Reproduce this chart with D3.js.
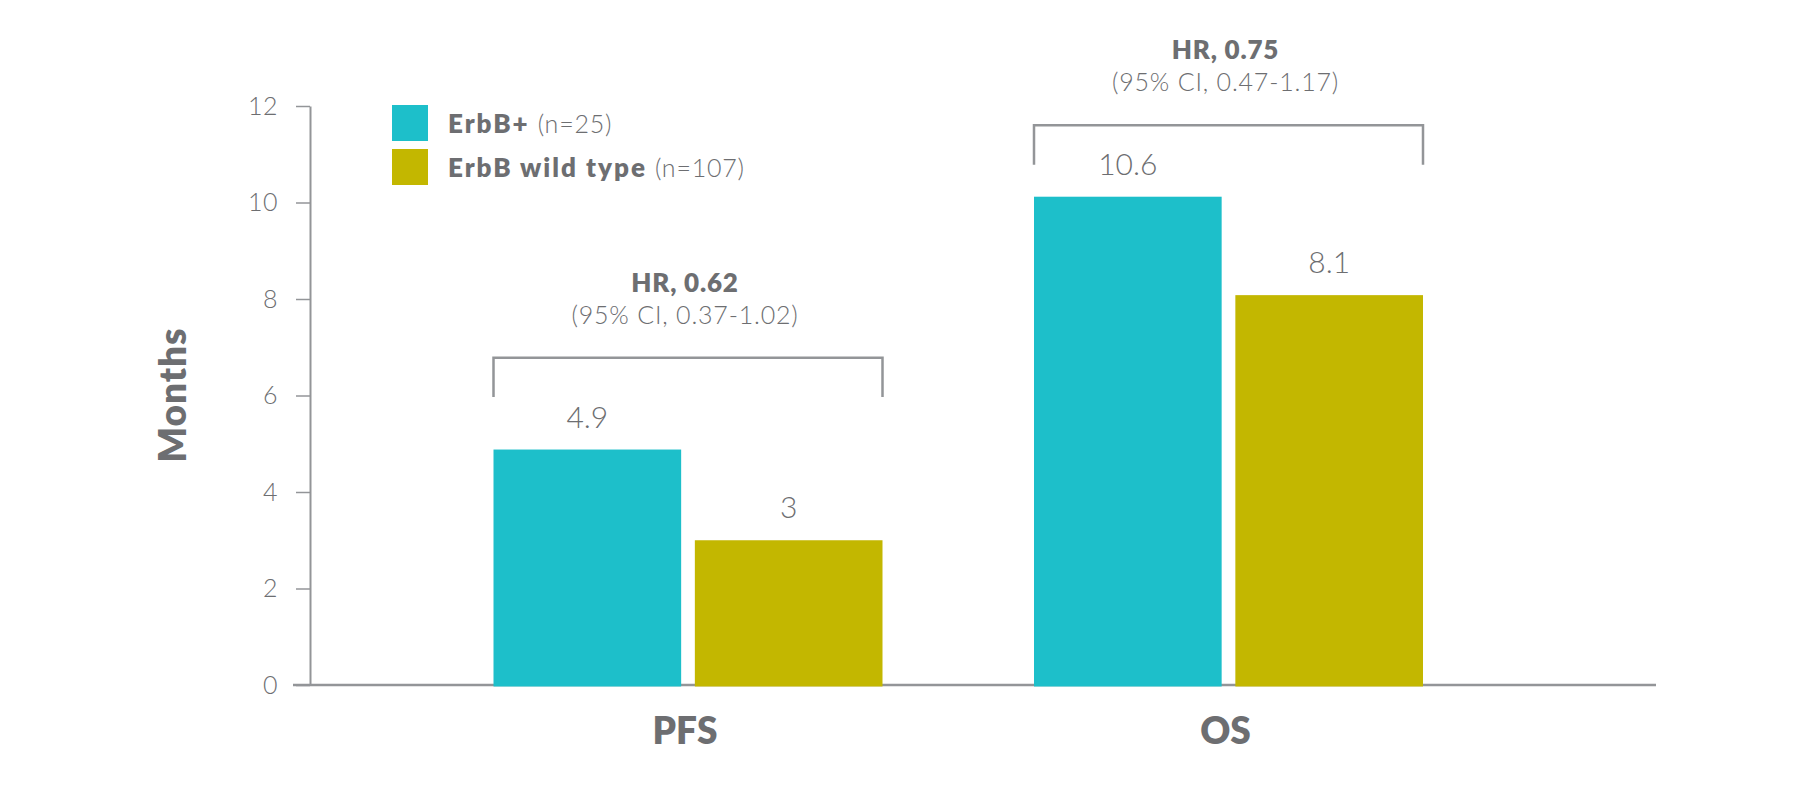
<!DOCTYPE html>
<html>
<head>
<meta charset="utf-8">
<script src="https://cdn.jsdelivr.net/npm/d3@7"></script>
<style>
  html, body { margin: 0; padding: 0; background: #fff; }
  svg { display: block; font-family: Lato, "Open Sans", sans-serif; }
</style>
</head>
<body>
<svg id="chart" width="1808" height="800"></svg>
<script>
// ---- data ----
const categories = ["PFS", "OS"];
const seriesNames = ["ErbB+", "ErbB wild type"];
const seriesCounts = ["(n=25)", "(n=107)"];
const erbbPlus = [4.88, 10.12];          // bar heights as drawn
const erbbWild = [3.0, 8.08];
const erbbPlusLabels = ["4.9", "10.6"];  // printed value labels
const erbbWildLabels = ["3", "8.1"];
const hrLabels = ["HR, 0.62", "HR, 0.75"];
const ciLabels = ["(95% CI, 0.37-1.02)", "(95% CI, 0.47-1.17)"];
const bracketTop = [6.78, 11.6];
const bracketBottom = [5.97, 10.78];
const yTicks = [0, 2, 4, 6, 8, 10, 12];
const yTitle = "Months";

// ---- styles ----
const colors = ["#1dbfca", "#c3b700"];
const textColor = "#6d6e71";
const axisColor = "#939598";
const heavy = 800;

const svg = d3.select("#chart");

const y = d3.scaleLinear().domain([0, 12]).range([685, 106]);
const xGroup = d3.scalePoint().domain(categories).range([688, 1228.5]);
const xInner = d3.scaleBand().domain(seriesNames).range([-194.5, 194.5]).paddingInner(0.068);

const series = [erbbPlus, erbbWild];
const seriesLabels = [erbbPlusLabels, erbbWildLabels];

// y axis
const yAxis = svg.append("g")
  .attr("transform", "translate(310,0)")
  .call(d3.axisLeft(y).tickValues(yTicks).tickSize(14).tickSizeOuter(0).tickPadding(18));
yAxis.select(".domain").attr("stroke", axisColor).attr("stroke-width", 2);
yAxis.selectAll(".tick line").attr("stroke", axisColor).attr("stroke-width", 1.5);
yAxis.selectAll(".tick text")
  .attr("fill", textColor)
  .style("font-family", "Lato, sans-serif")
  .style("font-weight", 300)
  .style("font-size", "25px")
  .style("letter-spacing", "0.5px");

// x baseline
svg.append("line")
  .attr("x1", 293).attr("x2", 1656)
  .attr("y1", y(0)).attr("y2", y(0))
  .attr("stroke", axisColor).attr("stroke-width", 2.5);

// bars
const groups = svg.append("g").selectAll("g")
  .data(categories)
  .join("g")
  .attr("transform", d => `translate(${xGroup(d)},0)`);

seriesNames.forEach((s, si) => {
  groups.append("rect")
    .attr("x", xInner(s))
    .attr("width", xInner.bandwidth())
    .attr("y", (d, i) => y(series[si][i]))
    .attr("height", (d, i) => y(0) - y(series[si][i]) + 1.5)
    .attr("fill", colors[si]);
  groups.append("text")
    .attr("x", xInner(s) + xInner.bandwidth() / 2)
    .attr("y", (d, i) => y(series[si][i]) - 22)
    .attr("text-anchor", "middle")
    .attr("fill", textColor)
    .style("font-weight", 300)
    .style("font-size", "30px")
    .text((d, i) => seriesLabels[si][i]);
});

// brackets + HR annotations
groups.each(function(d, i) {
  const g = d3.select(this);
  const x0 = xInner.range()[0], x1 = xInner.range()[1];
  const yt = y(bracketTop[i]), yb = y(bracketBottom[i]);
  g.append("path")
    .attr("d", `M${x0},${yb}V${yt}H${x1}V${yb}`)
    .attr("fill", "none")
    .attr("stroke", axisColor)
    .attr("stroke-width", 2.5);
  g.append("text")
    .attr("x", -3).attr("y", yt - 66)
    .attr("text-anchor", "middle")
    .attr("fill", textColor)
    .style("font-weight", heavy)
    .style("font-size", "26px")
    .style("letter-spacing", "0.8px")
    .text(hrLabels[i]);
  g.append("text")
    .attr("x", -3).attr("y", yt - 34)
    .attr("text-anchor", "middle")
    .attr("fill", textColor)
    .style("font-weight", 300)
    .style("font-size", "25px")
    .style("letter-spacing", "0.8px")
    .text(ciLabels[i]);
  g.append("text")
    .attr("x", -3).attr("y", 744)
    .attr("text-anchor", "middle")
    .attr("fill", textColor)
    .style("font-weight", heavy)
    .style("font-size", "37px")
    .text(d);
});

// y title
svg.append("text")
  .attr("transform", "translate(186,395) rotate(-90)")
  .attr("text-anchor", "middle")
  .attr("fill", textColor)
  .style("font-weight", heavy)
  .style("font-size", "37px")
  .style("letter-spacing", "1px")
  .text(yTitle);

// legend
const legend = svg.append("g").attr("transform", "translate(392,105)");
seriesNames.forEach((s, i) => {
  const row = legend.append("g").attr("transform", `translate(0,${i * 44})`);
  row.append("rect").attr("width", 36).attr("height", 36).attr("fill", colors[i]);
  const t = row.append("text").attr("x", 56).attr("y", 28)
    .attr("fill", textColor);
  t.append("tspan").style("font-weight", heavy).style("font-size", "26px")
    .style("letter-spacing", "2px").text(s + " ");
  t.append("tspan").style("font-weight", 300).style("font-size", "25px")
    .style("letter-spacing", "0.8px").text(seriesCounts[i]);
});
</script>
</body>
</html>
